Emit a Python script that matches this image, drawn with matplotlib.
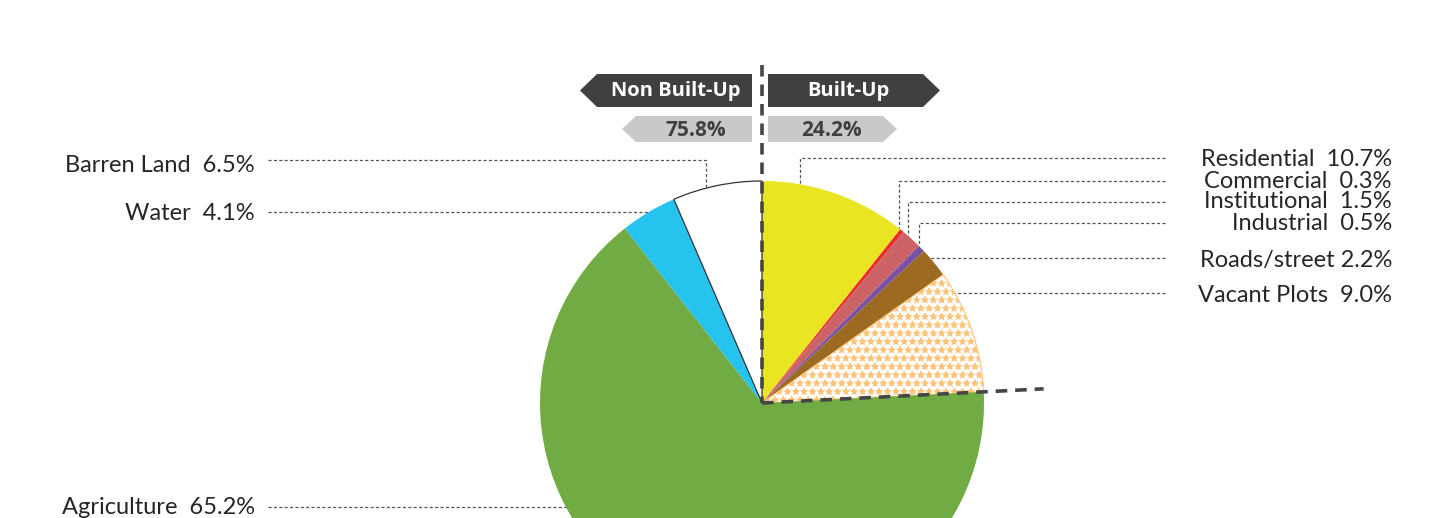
import numpy as np
import matplotlib.pyplot as plt

# land use shares, clockwise from 12 o'clock
labels = ['Residential', 'Commercial', 'Institutional', 'Industrial', 'Roads/street',
          'Vacant Plots', 'Agriculture', 'Water', 'Barren Land']
shares = [10.7, 0.3, 1.5, 0.5, 2.2, 9.0, 65.2, 4.1, 6.5]
label_text = ['Residential  10.7%', 'Commercial  0.3%', 'Institutional  1.5%', 'Industrial  0.5%',
              'Roads/street 2.2%', 'Vacant Plots  9.0%', 'Agriculture  65.2%', 'Water  4.1%',
              'Barren Land  6.5%']
groups = ['Non Built-Up', 'Built-Up']
group_share = ['75.8%', '24.2%']
n_built = 6

colors = ['#E9E523', '#EE2B2B', '#CC6467', '#7B52A3', '#9D6A21', 'white',
          '#70AC43', '#27C3EF', 'white']

W, H = 1441, 518
plt.rcParams['hatch.linewidth'] = 1.0
fig = plt.figure(figsize=(W / 100, H / 100), dpi=100)
ax = fig.add_axes([0, 0, 1, 1])

def py(y):  # pixel row -> data y
    return H - y

cx, cy, r = 762, py(403), 222

wedges, _ = ax.pie(shares, colors=colors, startangle=90, counterclock=False,
                   center=(cx, cy), radius=r, frame=True,
                   wedgeprops=dict(linewidth=0))
ax.set_xlim(0, W)
ax.set_ylim(0, H)
ax.set_aspect('equal')
ax.axis('off')

# vacant plots: white with orange speckle
wedges[5].set_hatch('**')
wedges[5].set_edgecolor('#FFC47A')
wedges[5].set_linewidth(0.8)
# barren land: white with thin outline
wedges[8].set_edgecolor('#333333')
wedges[8].set_linewidth(0.9)

# divider lines between built-up and non built-up
dash = dict(color='#454545', lw=2.6, linestyle=(0, (3.2, 2.2)), zorder=5)
ax.plot([cx, cx], [py(65), cy], **dash)
ang = np.deg2rad(90 - 360 * sum(shares[:n_built]) / 100)
ax.plot([cx, cx + 282 * np.cos(ang)], [cy, cy + 282 * np.sin(ang)], **dash)

def arc_y(x):
    return cy + np.sqrt(r ** 2 - (x - cx) ** 2)

def arc_x(y, side):
    return cx + side * np.sqrt(r ** 2 - (y - cy) ** 2)

lead = dict(color='#555555', lw=0.9, linestyle=(0, (2.5, 1.8)), zorder=4)
fs = 17
font = 'Lato'

# right side labels: (label row, drop x or None)
right_rows = [159, 181, 202, 223, 260, 296]
right_line = [158, 181, 202, 223, 258, 293]
right_drop = [800, 899, 908, 919, None, None]
for i in range(n_built):
    yl = py(right_line[i])
    if right_drop[i] is None:
        ax.plot([1165, arc_x(yl, 1)], [yl, yl], **lead)
    else:
        xd = right_drop[i]
        ax.plot([1165, xd, xd], [yl, yl, arc_y(xd)], **lead)
    ax.text(1392, py(right_rows[i]), label_text[i], ha='right', va='center',
            fontsize=fs, family=font, color='#262626')

# left side labels
left_rows = {6: 508, 7: 213, 8: 166}
left_line = {6: 507, 7: 212, 8: 160}
left_drop = {6: None, 7: None, 8: 706}
for i in [6, 7, 8]:
    yl = py(left_line[i])
    if left_drop[i] is None:
        ax.plot([268, arc_x(yl, -1)], [yl, yl], **lead)
    else:
        xd = left_drop[i]
        ax.plot([268, xd, xd], [yl, yl, arc_y(xd)], **lead)
    ax.text(255, py(left_rows[i]), label_text[i], ha='right', va='center',
            fontsize=fs, family=font, color='#262626')

# header arrow tags
def tag(x0, x1, y0, y1, tip, side, color):
    ym = (y0 + y1) / 2
    if side < 0:
        xs = [tip, x0, x1, x1, x0]
        ys = [ym, y0, y0, y1, y1]
    else:
        xs = [x0, x1, tip, x1, x0]
        ys = [y0, y0, ym, y1, y1]
    ax.fill(xs, [py(v) for v in ys], color=color, lw=0, zorder=3)

tag(597, 752, 74, 107, 580, -1, '#404040')
tag(768, 923, 74, 107, 940, 1, '#404040')
tag(636, 752, 116, 142, 622, -1, '#C9C9C9')
tag(768, 883, 116, 142, 897, 1, '#C9C9C9')

ax.text(676, py(91), groups[0], ha='center', va='center', fontsize=14.5,
        family='Open Sans', weight='bold', color='white', zorder=6)
ax.text(848, py(91), groups[1], ha='center', va='center', fontsize=14.5,
        family='Open Sans', weight='bold', color='white', zorder=6)
ax.text(696, py(130), group_share[0], ha='center', va='center', fontsize=15,
        family='Open Sans', weight='bold', color='#404040', zorder=6)
ax.text(831, py(130), group_share[1], ha='center', va='center', fontsize=15,
        family='Open Sans', weight='bold', color='#404040', zorder=6)

fig.savefig('out.png', dpi=100)
